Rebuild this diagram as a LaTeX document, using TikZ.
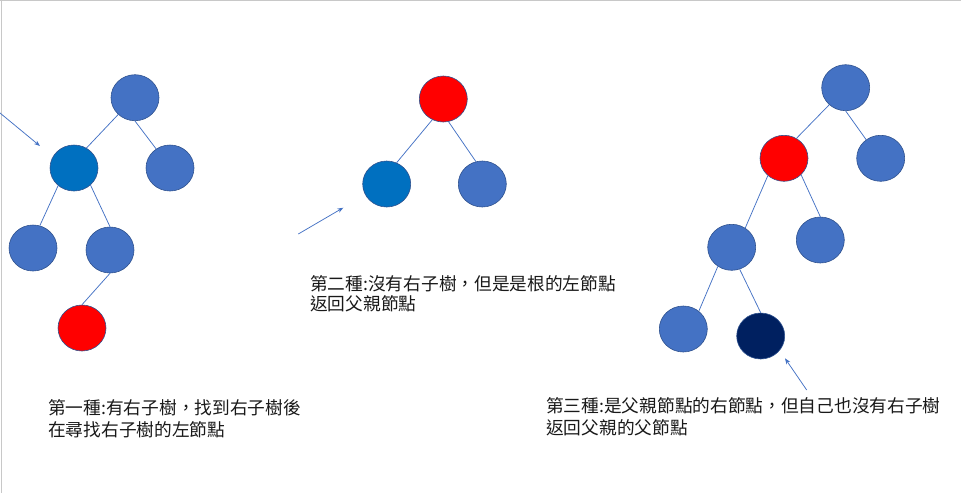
\documentclass[tikz,border=0pt]{standalone}
\usepackage{fontspec}
\setmainfont{Noto Sans CJK TC}
\usetikzlibrary{shapes.geometric,arrows.meta}
\definecolor{nblue}{HTML}{4472C4}
\definecolor{ndark}{HTML}{0070C0}
\definecolor{nnavy}{HTML}{002060}
\definecolor{nred}{HTML}{FF0000}
\definecolor{nline}{HTML}{2F528F}
\definecolor{edgec}{HTML}{4472C4}
\definecolor{frame}{HTML}{C8C8C8}
\tikzset{
  tnode/.style={ellipse, minimum width=48pt, minimum height=46pt, inner sep=0pt, draw=nline, line width=0.6pt, fill=nblue},
  bluenode/.style={tnode},
  darknode/.style={tnode, fill=ndark},
  rednode/.style={tnode, fill=nred},
  navynode/.style={tnode, fill=nnavy},
  edge/.style={draw=edgec, line width=0.75pt},
  pointer/.style={draw=edgec, line width=0.75pt, -{Stealth[length=6pt,width=4.5pt]}},
  label/.style={anchor=base west, inner sep=0pt, font=\fontsize{17.7}{22}\selectfont, text=black!90}
}
\begin{document}
\begin{tikzpicture}[x=1pt,y=-1pt]
\useasboundingbox (0,0) rectangle (961,499);
% frame edges
\draw[frame, line width=1.2pt] (0,0.6) -- (961,0.6);
\draw[frame, line width=1.2pt] (1.5,0) -- (1.5,493);

% Tree 1
\node[bluenode] (a1) at (135,97.7) {};
\node[darknode] (a2) at (74,168) {};
\node[bluenode] (a3) at (170,168) {};
\node[bluenode] (a4) at (33,248) {};
\node[bluenode] (a5) at (110,250) {};
\node[rednode]  (a6) at (82,328) {};
\draw[edge] (a1.-135) -- (a2.58);
\draw[edge] (a1.-90) -- (a3.126);
\draw[edge] (a2.-132) -- (a4.73);
\draw[edge] (a2.-46) -- (a5.90);
\draw[edge] (a5.-90) -- (a6.90);
\coordinate (p1) at (0,113);
\coordinate (q1) at (40,146);
\draw[pointer] (p1) -- (q1);
\node[label] (t1a) at (48,414.5) {第一種:有右子樹，找到右子樹後};
\node[label] (t1b) at (48,436) {在尋找右子樹的左節點};

% Tree 2
\node[rednode]  (b1) at (443.3,99) {};
\node[darknode] (b2) at (386.7,184) {};
\node[bluenode] (b3) at (482.3,184) {};
\draw[edge] (b1.-118) -- (b2.65);
\draw[edge] (b1.-77) -- (b3.106);
\coordinate (p2) at (298.3,234);
\coordinate (q2) at (343.3,207.7);
\draw[pointer] (p2) -- (q2);
\node[label] (t2a) at (310,290) {第二種:沒有右子樹，但是是根的左節點};
\node[label] (t2b) at (310,310.5) {返回父親節點};

% Tree 3
\node[bluenode] (c1) at (845.7,87.7) {};
\node[rednode]  (c2) at (784,158.3) {};
\node[bluenode] (c3) at (880.7,158.3) {};
\node[bluenode] (c4) at (731.7,247.3) {};
\node[bluenode] (c5) at (820.3,240) {};
\node[bluenode] (c6) at (683.3,329) {};
\node[navynode] (c7) at (760.7,336) {};
\draw[edge] (c1.-134) -- (c2.58);
\draw[edge] (c1.-90) -- (c3.128);
\draw[edge] (c2.-133) -- (c4.55);
\draw[edge] (c2.-44) -- (c5.90);
\draw[edge] (c4.-126) -- (c6.49);
\draw[edge] (c4.-70) -- (c7.90);
\coordinate (p3) at (806.7,390);
\coordinate (q3) at (785,358.3);
\draw[pointer] (p3) -- (q3);
\node[label] (t3a) at (546,412) {第三種:是父親節點的右節點，但自己也沒有右子樹};
\node[label] (t3b) at (546,434.5) {返回父親的父節點};
\end{tikzpicture}
\end{document}
